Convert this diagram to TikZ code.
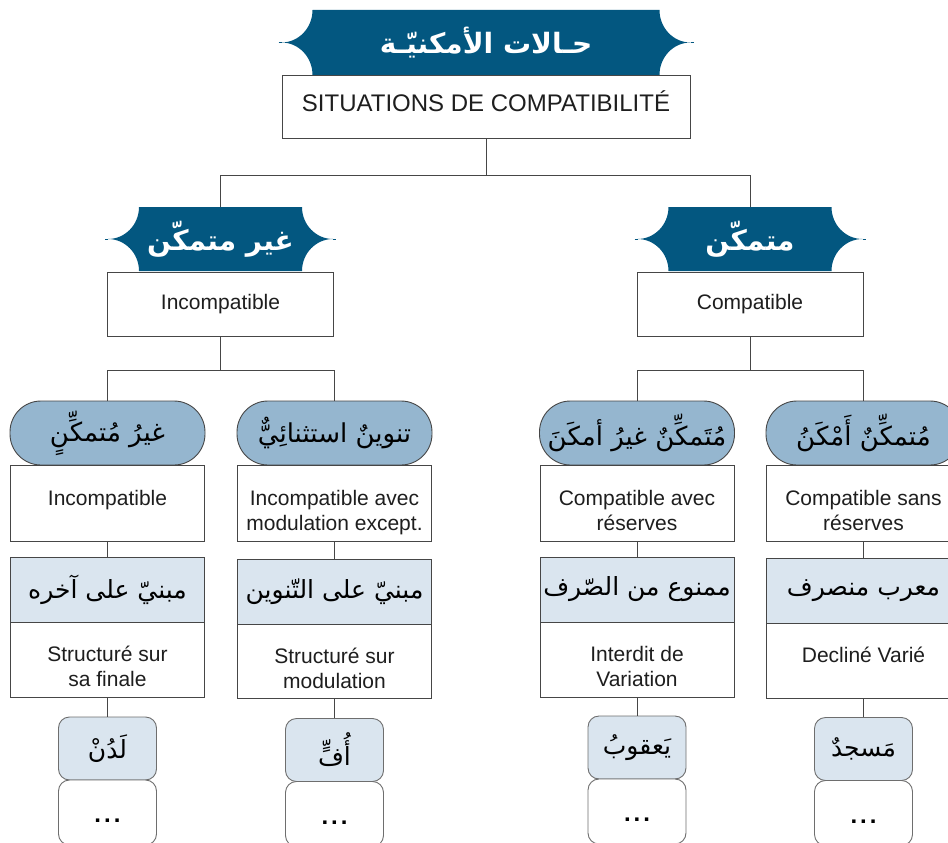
\documentclass[tikz,border=0pt]{standalone}
\usepackage{fontspec}
\setmainfont{Liberation Sans}
\newfontfamily\arabicfont[Script=Arabic]{DejaVu Sans}
\TeXXeTstate=1
\usetikzlibrary{calc}

\definecolor{bannerblue}{RGB}{3,87,128}
\definecolor{pillblue}{RGB}{149,182,207}
\definecolor{paleblue}{RGB}{218,229,239}
\definecolor{edge}{RGB}{70,70,70}
\definecolor{softedge}{RGB}{110,110,110}
\definecolor{ink}{RGB}{30,30,30}

% right-to-left Arabic run
\newcommand\ar[1]{{\arabicfont\beginR #1\endR}}

% scalloped banner: centre x, centre y, half body width, ear width, half height
\newcommand\scallop[5]{%
  \fill[bannerblue]
    ({#1-#3},{#2-#5}) -- ({#1+#3},{#2-#5})
    .. controls ({#1+#3},{#2-#5+0.552*#5}) and ({#1+#3+#4-0.552*#4},{#2}) .. ({#1+#3+#4},{#2})
    .. controls ({#1+#3+#4-0.552*#4},{#2}) and ({#1+#3},{#2+#5-0.552*#5}) .. ({#1+#3},{#2+#5})
    -- ({#1-#3},{#2+#5})
    .. controls ({#1-#3},{#2+#5-0.552*#5}) and ({#1-#3-#4+0.552*#4},{#2}) .. ({#1-#3-#4},{#2})
    .. controls ({#1-#3-#4+0.552*#4},{#2}) and ({#1-#3},{#2-#5+0.552*#5}) .. ({#1-#3},{#2-#5})
    -- cycle;
  \draw[bannerblue, line width=0.5pt] ({#1-#3-#4-3},{#2}) -- ({#1-#3-#4},{#2});
  \draw[bannerblue, line width=0.5pt] ({#1+#3+#4},{#2}) -- ({#1+#3+#4+3},{#2});
}

\tikzset{
  x=1pt, y=-1pt,
  link/.style={draw=edge, line width=0.8pt},
  bannertext/.style={text=white, inner sep=0pt,
    font=\bfseries\fontsize{28}{34}\selectfont},
  whitebox/.style={draw=edge, fill=white, line width=0.9pt, text=ink,
    inner sep=0pt, align=center, minimum width=194pt,
    font=\fontsize{21}{25}\selectfont},
  % text set from the top of the box: one line, and two lines
  toptext/.style={text height=34pt, text depth=30pt},
  toptwo/.style={text height=54pt, text depth=0pt},
  pill/.style={draw=edge, fill=pillblue, line width=0.9pt, text=black,
    inner sep=0pt, minimum width=195pt, minimum height=64pt,
    rounded corners=31pt, font=\fontsize{26}{30}\selectfont},
  palebox/.style={draw=edge, fill=paleblue, line width=0.9pt, text=black,
    inner sep=0pt, minimum width=194pt, minimum height=65pt,
    font=\fontsize{25}{30}\selectfont},
  smallbox/.style={draw=softedge, line width=0.9pt, text=black,
    inner sep=0pt, minimum width=98pt, minimum height=63pt,
    rounded corners=11pt, font=\fontsize{25}{30}\selectfont},
  dotsbox/.style={smallbox, fill=white, minimum height=65pt,
    text height=20pt, text depth=0pt, font=\bfseries\fontsize{24}{28}\selectfont},
}

\newcommand\dotrow{.\kern3pt.\kern3pt.}

\begin{document}
\begin{tikzpicture}
\useasboundingbox (0,0) rectangle (948,843);
\clip (0,0) rectangle (948,843);

% ---- root ----
\scallop{486}{42.5}{173.5}{31}{32.5}
\node[bannertext, minimum width=347pt, minimum height=65pt] (title) at (486,42.5)
  {\ar{حـالات الأمكنيّـة}};
\node[whitebox, minimum width=408pt, minimum height=63pt, text height=10pt, text depth=0pt,
  font=\fontsize{24}{28}\selectfont] (top) at (486,106.5) {SITUATIONS DE COMPATIBILITÉ};

% ---- second level ----
\scallop{220.5}{239}{81.5}{31}{32}
\node[bannertext, minimum width=163pt, minimum height=64pt] (lban) at (220.5,239)
  {\ar{غير متمكّن}};
\node[whitebox, minimum width=226pt, minimum height=64pt] (lbox) at (220.5,304) {Incompatible};

\scallop{750}{239}{81.5}{31}{32}
\node[bannertext, minimum width=163pt, minimum height=64pt] (rban) at (750,239)
  {\ar{متمكّن}};
\node[whitebox, minimum width=226pt, minimum height=64pt] (rbox) at (750,304) {Compatible};

% ---- column 1 ----
\node[pill] (p1) at (107.5,433) {\ar{غيرُ مُتمكِّنٍ}};
\node[whitebox, toptext, minimum height=76pt] (d1) at (107.5,503) {Incompatible};
\node[palebox] (a1) at (107.5,589.5) {\ar{مبنيّ على آخره}};
\node[whitebox, toptwo, minimum height=75pt] (f1) at (107.5,659.5) {Structuré sur\\sa finale};
\node[smallbox, fill=paleblue] (e1) at (107.5,748.5) {\ar{لَدُنْ}};
\node[dotsbox] (m1) at (107.5,812.5) {\dotrow};

% ---- column 2 ----
\node[pill] (p2) at (334.5,433) {\ar{تنوينٌ استثنائِيٌّ}};
\node[whitebox, toptwo, minimum height=76pt] (d2) at (334.5,503) {Incompatible avec\\modulation except.};
\node[palebox] (a2) at (334.5,591.5) {\ar{مبنيّ على التّنوين}};
\node[whitebox, toptwo, minimum height=74pt] (f2) at (334.5,661) {Structuré sur\\modulation};
\node[smallbox, fill=paleblue] (e2) at (334.5,750) {\ar{أُفٍّ}};
\node[dotsbox] (m2) at (334.5,814) {\dotrow};

% ---- column 3 ----
\node[pill] (p3) at (637,433) {\ar{مُتَمكِّنٌ غيرُ أمكَنَ}};
\node[whitebox, toptwo, minimum height=76pt] (d3) at (637,503) {Compatible avec\\réserves};
\node[palebox] (a3) at (637,589.5) {\ar{ممنوع من الصّرف}};
\node[whitebox, toptwo, minimum height=75pt] (f3) at (637,659.5) {Interdit de\\Variation};
\node[smallbox, fill=paleblue] (e3) at (637,747.5) {\ar{يَعقوبُ}};
\node[dotsbox] (m3) at (637,811.5) {\dotrow};

% ---- column 4 ----
\node[pill] (p4) at (863.5,433) {\ar{مُتمكِّنٌ أَمْكَنُ}};
\node[whitebox, toptwo, minimum height=76pt] (d4) at (863.5,503) {Compatible sans\\réserves};
\node[palebox] (a4) at (863.5,591) {\ar{معرب منصرف}};
\node[whitebox, toptext, minimum height=75pt] (f4) at (863.5,660.5) {Decliné Varié};
\node[smallbox, fill=paleblue] (e4) at (863.5,749) {\ar{مَسجدٌ}};
\node[dotsbox] (m4) at (863.5,813) {\dotrow};

% ---- connectors ----
\draw[link] (top.south) -- ++(0,37) -| (lban.north);
\draw[link] (top.south) -- ++(0,37) -| (rban.north);
\draw[link] (lbox.south) -- ++(0,34) -| (p1.north);
\draw[link] (lbox.south) -- ++(0,34) -| (p2.north);
\draw[link] (rbox.south) -- ++(0,34) -| (p3.north);
\draw[link] (rbox.south) -- ++(0,34) -| (p4.north);
\foreach \c in {1,2,3,4}{
  \draw[link] (d\c.south) -- (a\c.north);
  \draw[link] (f\c.south) -- (e\c.north);
}
\end{tikzpicture}
\end{document}
